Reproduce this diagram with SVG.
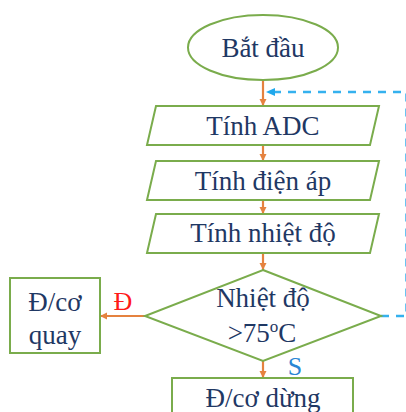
<svg xmlns="http://www.w3.org/2000/svg" width="406" height="412" viewBox="0 0 406 412">
<style>
.sh{fill:#ffffff;stroke:#7aac4c;stroke-width:2}
.t{font-family:'Liberation Serif','Tinos','Times New Roman','DejaVu Serif',serif;font-size:27px;fill:#1f3864;text-anchor:middle}
.c{stroke:#e5823f;stroke-width:2.2;fill:none}
.d{stroke:#1fa8ec;stroke-width:2.5;fill:none;stroke-dasharray:8 7}
.lb{font-family:'Liberation Serif','Tinos','Times New Roman','DejaVu Serif',serif;font-size:26px;text-anchor:middle}
</style>
<defs>
<marker id="ao" markerWidth="8" markerHeight="8" refX="7" refY="4" orient="auto" markerUnits="userSpaceOnUse">
<path d="M0,0.5 L7,4 L0,7.5 Z" fill="#e5823f"/>
</marker>
<marker id="ab" markerWidth="10" markerHeight="10" refX="9" refY="5" orient="auto" markerUnits="userSpaceOnUse">
<path d="M0,1 L9,5 L0,9 Z" fill="#1fa8ec"/>
</marker>
</defs>
<rect width="406" height="412" fill="#ffffff"/>
<g id="connectors">
<line class="c" x1="263" y1="80" x2="263" y2="106" marker-end="url(#ao)"/>
<line class="c" x1="263" y1="145" x2="263" y2="161" marker-end="url(#ao)"/>
<line class="c" x1="263" y1="200" x2="263" y2="214" marker-end="url(#ao)"/>
<line class="c" x1="263" y1="253" x2="263" y2="270" marker-end="url(#ao)"/>
<line class="c" x1="145" y1="316" x2="100" y2="316" marker-end="url(#ao)"/>
<line class="c" x1="263" y1="361" x2="263" y2="378" marker-end="url(#ao)"/>
<path class="d" d="M381,316 H406.5 V92 H266" marker-end="url(#ab)" stroke-opacity="0.9"/>
<text class="lb" x="123" y="310" fill="#ff1a1a">Đ</text>
<text class="lb" x="295" y="375" fill="#2a86d4">S</text>
</g>
<g id="start">
<ellipse class="sh" cx="263" cy="47.5" rx="75" ry="32.5"/>
<text class="t" x="263" y="57">Bắt đầu</text>
</g>
<g id="adc">
<polygon class="sh" points="156,106 379,106 370,145 147,145"/>
<text class="t" x="263" y="135">Tính ADC</text>
</g>
<g id="voltage">
<polygon class="sh" points="156,161 379,161 370,200 147,200"/>
<text class="t" x="263" y="190">Tính điện áp</text>
</g>
<g id="temp">
<polygon class="sh" points="156,214 379,214 370,253 147,253"/>
<text class="t" x="263" y="242">Tính nhiệt độ</text>
</g>
<g id="decision">
<polygon class="sh" points="263,270 381,316 263,361 145,316"/>
<text class="t" x="263" y="307">Nhiệt độ</text>
<text class="t" x="262" y="342">&gt;75<tspan font-size="17" dy="-10">o</tspan><tspan dy="10">C</tspan></text>
</g>
<g id="motor-on">
<rect class="sh" x="10" y="278" width="90" height="75"/>
<text class="t" x="55" y="311">Đ/cơ</text>
<text class="t" x="55" y="344">quay</text>
</g>
<g id="motor-off">
<rect class="sh" x="172" y="378" width="181" height="40"/>
<text class="t" x="263" y="407">Đ/cơ dừng</text>
</g>
</svg>
